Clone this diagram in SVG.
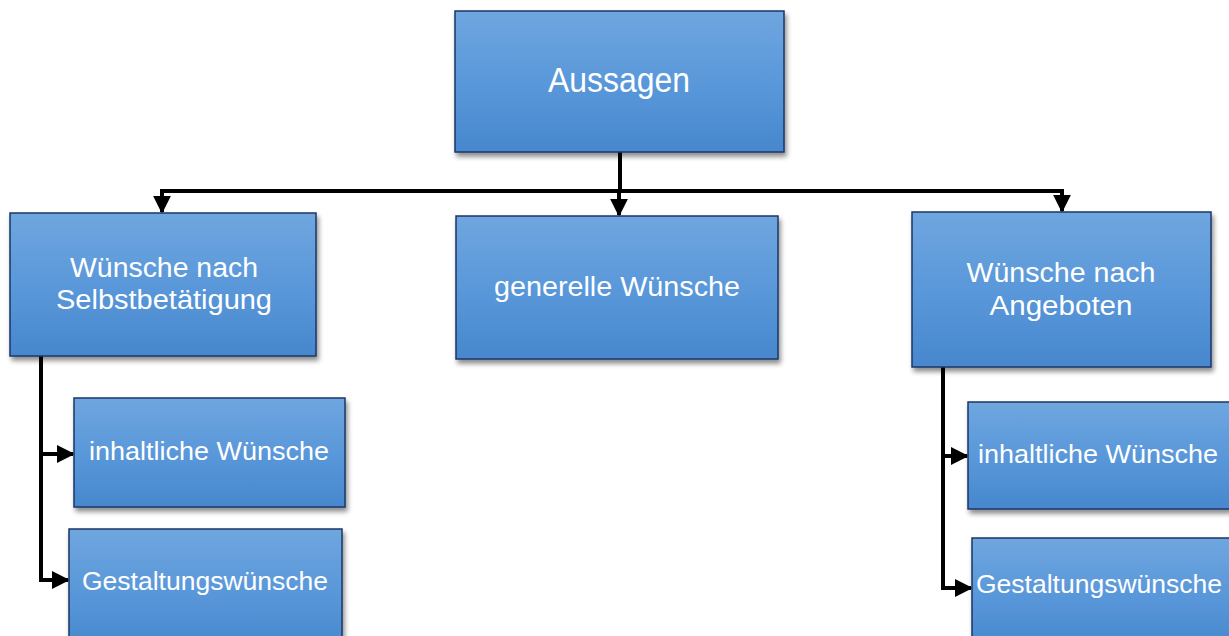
<svg xmlns="http://www.w3.org/2000/svg" width="1229" height="636" viewBox="0 0 1229 636">
<defs>
<linearGradient id="g" x1="0" y1="0" x2="0" y2="1">
<stop offset="0" stop-color="#6fa6df"/>
<stop offset="0.5" stop-color="#5a98da"/>
<stop offset="1" stop-color="#4787cd"/>
</linearGradient>
<filter id="sh" x="-10%" y="-10%" width="125%" height="130%">
<feGaussianBlur in="SourceAlpha" stdDeviation="2.5"/>
<feOffset dx="2" dy="4" result="b"/>
<feComponentTransfer><feFuncA type="linear" slope="0.45"/></feComponentTransfer>
<feMerge><feMergeNode/><feMergeNode in="SourceGraphic"/></feMerge>
</filter>
<marker id="ar" viewBox="0 0 10 10" refX="9" refY="5" markerWidth="4.5" markerHeight="4.5" orient="auto" markerUnits="strokeWidth">
<path d="M0,0 L10,5 L0,10 z" fill="#000"/>
</marker>
</defs>
<style>
.box{fill:url(#g);stroke:#1b3766;stroke-width:1.5;filter:url(#sh)}
.t{fill:#fff;font-family:"Liberation Sans",Arial,sans-serif;text-anchor:middle}
.c{fill:none;stroke:#000;stroke-width:4}
</style>
<rect width="1229" height="636" fill="#fff"/>
<g id="connectors">
<path class="c" d="M620,152 V191"/>
<path class="c" d="M160,191 H1064"/>
<path class="c" d="M162,191 V212" marker-end="url(#ar)"/>
<path class="c" d="M619,191 V215" marker-end="url(#ar)"/>
<path class="c" d="M1062,191 V211" marker-end="url(#ar)"/>
<path class="c" d="M41,356 V580 H68" marker-end="url(#ar)"/>
<path class="c" d="M41,454 H73" marker-end="url(#ar)"/>
<path class="c" d="M943,367 V588 H971" marker-end="url(#ar)"/>
<path class="c" d="M943,456 H967" marker-end="url(#ar)"/>
</g>
<g id="n-aussagen">
<rect class="box" x="455" y="11" width="329" height="141"/>
<text class="t" x="619" y="92" font-size="35" textLength="142" lengthAdjust="spacingAndGlyphs">Aussagen</text>
</g>
<g id="n-selbst">
<rect class="box" x="10" y="213" width="306" height="143"/>
<text class="t" x="164" y="277" font-size="27" textLength="188" lengthAdjust="spacingAndGlyphs">Wünsche nach</text>
<text class="t" x="164" y="309" font-size="27" textLength="216" lengthAdjust="spacingAndGlyphs">Selbstbetätigung</text>
</g>
<g id="n-generell">
<rect class="box" x="456" y="216" width="322" height="143"/>
<text class="t" x="617" y="296" font-size="27" textLength="246" lengthAdjust="spacingAndGlyphs">generelle Wünsche</text>
</g>
<g id="n-angebote">
<rect class="box" x="912" y="212" width="299" height="155"/>
<text class="t" x="1061" y="282" font-size="27" textLength="189" lengthAdjust="spacingAndGlyphs">Wünsche nach</text>
<text class="t" x="1061" y="315" font-size="27" textLength="143" lengthAdjust="spacingAndGlyphs">Angeboten</text>
</g>
<g id="n-inhalt-l">
<rect class="box" x="74" y="398" width="271" height="109"/>
<text class="t" x="209" y="460" font-size="26" textLength="240" lengthAdjust="spacingAndGlyphs">inhaltliche Wünsche</text>
</g>
<g id="n-gestalt-l">
<rect class="box" x="69" y="529" width="273" height="120"/>
<text class="t" x="205" y="590" font-size="26" textLength="246" lengthAdjust="spacingAndGlyphs">Gestaltungswünsche</text>
</g>
<g id="n-inhalt-r">
<rect class="box" x="968" y="402" width="262" height="107"/>
<text class="t" x="1098" y="463" font-size="26" textLength="240" lengthAdjust="spacingAndGlyphs">inhaltliche Wünsche</text>
</g>
<g id="n-gestalt-r">
<rect class="box" x="972" y="538" width="258" height="110"/>
<text class="t" x="1099" y="593" font-size="26" textLength="246" lengthAdjust="spacingAndGlyphs">Gestaltungswünsche</text>
</g>
</svg>
